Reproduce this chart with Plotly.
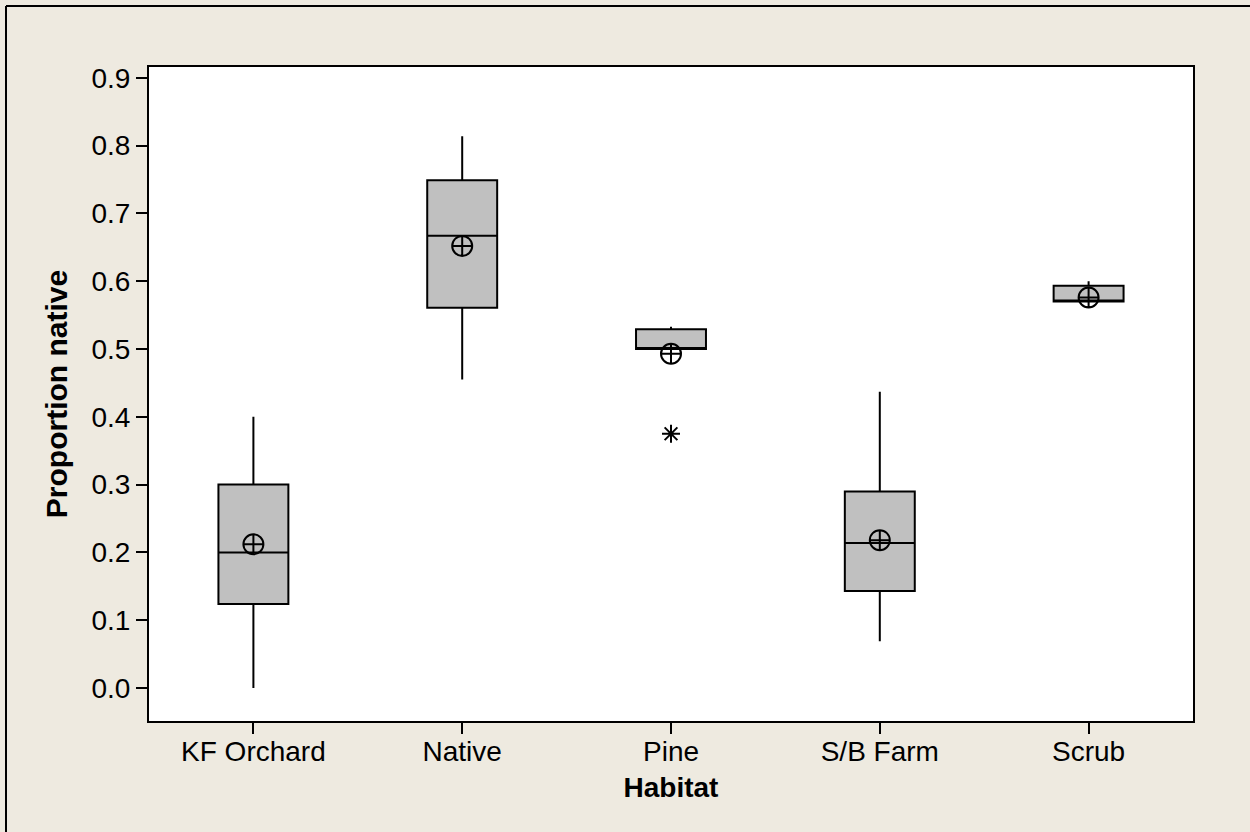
import plotly.graph_objects as go

categories = ["KF Orchard", "Native", "Pine", "S/B Farm", "Scrub"]
q1 = [0.124, 0.561, 0.500, 0.143, 0.570]
median = [0.200, 0.667, 0.500, 0.214, 0.570]
q3 = [0.300, 0.749, 0.529, 0.290, 0.5935]
lower_whisker = [0.000, 0.455, 0.500, 0.069, 0.570]
upper_whisker = [0.400, 0.814, 0.533, 0.437, 0.600]
means = [0.212, 0.652, 0.493, 0.218, 0.576]
outlier_cat = ["Pine"]
outlier_val = [0.375]
y_ticks = [0.0, 0.1, 0.2, 0.3, 0.4, 0.5, 0.6, 0.7, 0.8, 0.9]

BG = "#EEEAE0"
FONT = "Liberation Sans, Arial, sans-serif"

fig = go.Figure()
fig.add_trace(go.Box(
    x=categories, q1=q1, median=median, q3=q3,
    lowerfence=lower_whisker, upperfence=upper_whisker,
    fillcolor="#C0C0C0", line=dict(color="black", width=2),
    whiskerwidth=0, width=0.335, boxpoints=False, showlegend=False,
    hoverinfo="skip",
))
fig.add_trace(go.Scatter(
    x=categories, y=means, mode="markers",
    marker=dict(symbol="circle-cross-open", size=20, color="black",
                line=dict(color="black", width=2)),
    showlegend=False,
))
fig.add_trace(go.Scatter(
    x=outlier_cat, y=outlier_val, mode="markers",
    marker=dict(symbol="asterisk-open", size=15, color="black",
                line=dict(color="black", width=2)),
    showlegend=False,
))

L, R, T, B = 149, 57, 67, 111
W, H = 1250, 832
pw, ph = W - L - R, H - T - B

def px_x(px):
    return (px - L) / pw

def px_y(py):
    return (H - B - py) / ph

fig.update_layout(
    width=W, height=H,
    margin=dict(l=L, r=R, t=T, b=B, autoexpand=False),
    paper_bgcolor=BG, plot_bgcolor="white",
    font=dict(family=FONT, size=28, color="black"),
    xaxis=dict(
        type="category", range=[-0.5, 4.5],
        showline=True, linecolor="black", linewidth=2, mirror=True,
        ticks="outside", ticklen=11, tickwidth=2, tickcolor="black",
        ticklabelstandoff=-7,
        showgrid=False, zeroline=False,
        title=dict(text="<b>Habitat</b>", font=dict(family=FONT, size=28), standoff=12),
        tickfont=dict(family=FONT, size=28),
    ),
    yaxis=dict(
        range=[-0.0487, 0.916],
        tickvals=y_ticks, tickformat=".1f",
        showline=True, linecolor="black", linewidth=2, mirror=True,
        ticks="outside", ticklen=11, tickwidth=2, tickcolor="black",
        showgrid=False, zeroline=False,
        title=dict(text="<b>Proportion native</b>", font=dict(family=FONT, size=30), standoff=15),
        tickfont=dict(family=FONT, size=28),
    ),
    shapes=[
        dict(type="line", xref="paper", yref="paper",
             x0=px_x(6), x1=px_x(1300), y0=px_y(6), y1=px_y(6),
             line=dict(color="black", width=2)),
        dict(type="line", xref="paper", yref="paper",
             x0=px_x(6), x1=px_x(6), y0=px_y(6), y1=px_y(900),
             line=dict(color="black", width=2)),
    ],
)

fig.write_html("out.html", config={"displayModeBar": False},
               post_script="document.body.style.margin='0';document.body.style.background='%s';" % BG)
